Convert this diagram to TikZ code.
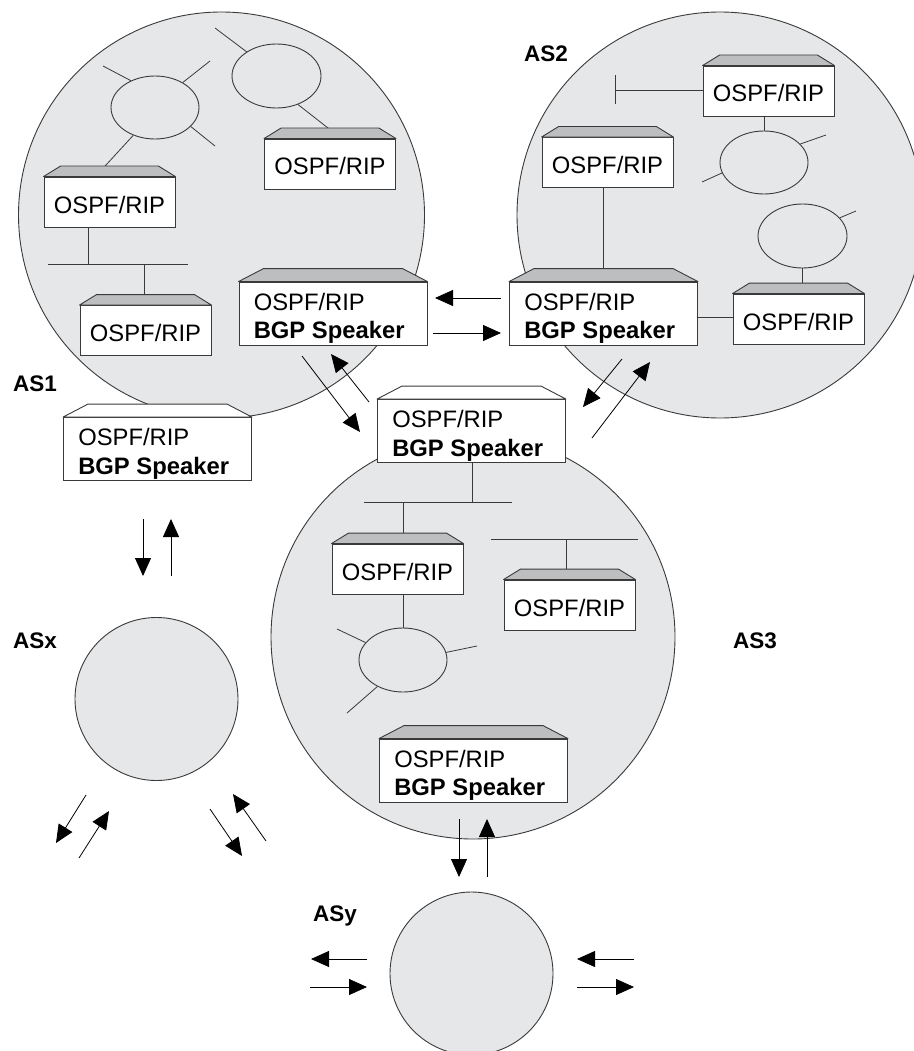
\documentclass[tikz,border=0pt]{standalone}
\usepackage{fontspec}
\setmainfont{Liberation Sans}
\usetikzlibrary{shapes.geometric,arrows.meta,calc}
\pgfdeclarelayer{bg}\pgfdeclarelayer{mid}
\pgfsetlayers{bg,mid,main}
\definecolor{asfill}{HTML}{E6E7E8}
\definecolor{capfill}{HTML}{BCBEC0}
\definecolor{edge}{HTML}{3A3A3A}
\newcommand\rtfont{\fontsize{23.8}{28}\selectfont}
\newcommand\aslfont{\fontsize{22.5}{26}\selectfont\bfseries}
\newcommand\capon[4]{%
  \filldraw[draw=edge, fill=#4, line width=0.9pt, line join=round]
    (#1.north west) -- ++(#2,-#3) -- ($(#1.north east)+(-#2,-#3)$) -- (#1.north east) -- cycle;}
\tikzset{
  asc/.style={circle, draw=edge, fill=asfill, line width=0.9pt, inner sep=0pt},
  lan/.style={ellipse, draw=edge, line width=0.9pt, inner sep=0pt, minimum width=88pt, minimum height=63pt},
  wire/.style={draw=edge, line width=0.8pt},
  rbody/.style={rectangle, draw=edge, fill=white, line width=0.9pt, inner sep=0pt},
  srouter/.style={rbody, minimum width=131pt, minimum height=50pt, text height=22pt, text depth=0pt, font=\rtfont},
  brouter/.style={rbody, minimum width=188pt, minimum height=63pt},
  rtxt/.style={anchor=base west, inner sep=0pt, font=\rtfont},
  aslabel/.style={anchor=base west, inner sep=0pt, font=\aslfont},
  flow/.style={draw=black, line width=0.8pt, -{Triangle[length=18pt,width=16pt]}},
}
\begin{document}
\begin{tikzpicture}[x=1pt,y=-1pt]
\useasboundingbox (0,0) rectangle (913,1051);
% ---------- autonomous systems ----------
\begin{pgfonlayer}{bg}
\node[asc, minimum size=406pt] (AS1) at (221.5,215) {};
\node[asc, minimum size=406pt] (AS2) at (720,215) {};
\node[asc, minimum size=404pt] (AS3) at (473,637) {};
\node[asc, minimum size=163pt] (ASX) at (156.5,699) {};
\node[asc, minimum size=163pt] (ASY) at (471.5,973.5) {};
\end{pgfonlayer}
% ---------- labels ----------
\node[aslabel] (l1) at (13,391) {AS1};
\node[aslabel] (l2) at (524,62) {AS2};
\node[aslabel] (l3) at (733,648) {AS3};
\node[aslabel] (lx) at (13,648) {ASx};
\node[aslabel] (ly) at (313,921) {ASy};
% ---------- LAN ellipses ----------
\node[lan] (e1) at (155,107.5) {};
\node[lan, minimum width=89pt, minimum height=64pt] (e2) at (276.5,76) {};
\node[lan] (e3) at (764,162.5) {};
\node[lan, minimum width=89pt, minimum height=64pt] (e4) at (802.5,236) {};
\node[lan, minimum height=64pt] (e5) at (403,660) {};
% ---------- small routers ----------
\node[srouter] (A) at (330,164) {OSPF/RIP};
\node[srouter] (B) at (109.5,202) {OSPF/RIP};
\node[srouter] (C) at (145.5,330.5) {OSPF/RIP};
\node[srouter] (E) at (768.5,91) {OSPF/RIP};
\node[srouter] (F) at (607.5,162.5) {OSPF/RIP};
\node[srouter] (H) at (798.5,319) {OSPF/RIP};
\node[srouter] (M) at (397.5,569) {OSPF/RIP};
\node[srouter] (N) at (569.5,605) {OSPF/RIP};
\foreach \r in {A,B,C,E,F,H,M,N} {\capon{\r}{17}{10.5}{capfill}}
% ---------- BGP speakers ----------
\node[brouter] (D) at (333,313.5) {};
\node[brouter] (G) at (603.5,313.5) {};
\node[brouter] (J) at (471.5,431) {};
\node[brouter] (K) at (157.5,449) {};
\node[brouter] (L) at (473.5,770.5) {};
\foreach \r in {D,G,L} {\capon{\r}{25}{13}{capfill}}
\foreach \r in {J,K} {\capon{\r}{25}{13}{white}}
\foreach \r in {D,G,J,K,L} {
  \node[rtxt] (\r1) at ($(\r.north west)+(15,28.5)$) {OSPF/RIP};
  \node[rtxt] (\r2) at ($(\r.north west)+(15,57)$) {\textbf{BGP Speaker}};
}
% ---------- LAN wiring ----------
\begin{pgfonlayer}{mid}
% AS1
\coordinate (e1a) at (103,66);
\coordinate (e1b) at (210,61);
\coordinate (e1c) at (215,146);
\coordinate (bB) at (95,177);
\draw[wire] (e1.132) -- (e1a);
\draw[wire] (e1.42) -- (e1b);
\draw[wire] (e1.332) -- (e1c);
\draw[wire] (e1.232) -- (bB);
\coordinate (e2a) at (215,28);
\coordinate (bA) at (342,139);
\draw[wire] (e2.141) -- (e2a);
\draw[wire] (e2.307) -- (bA);
\coordinate (bus1w) at (48,264);
\coordinate (bus1e) at (188,264);
\coordinate (j1) at (88,264);
\coordinate (j2) at (144,264);
\draw[wire] (bus1w) -- (bus1e);
\draw[wire] (B.south -| j1) -- (j1);
\draw[wire] (j2) -- (j2 |- C.north);
% AS2
\coordinate (tE) at (615,90);
\coordinate (tE1) at (615,75);
\coordinate (tE2) at (615,104);
\draw[wire] (E.west |- tE) -- (tE);
\draw[wire] (tE1) -- (tE2);
\draw[wire] (E.south -| e3.north) -- (e3.north);
\coordinate (e3a) at (826,135);
\coordinate (e3b) at (702,182);
\draw[wire] (e3.27) -- (e3a);
\draw[wire] (e3.194) -- (e3b);
\draw[wire] (F.south -| 603,0) -- (G.north -| 603,0);
\coordinate (e4a) at (856,211);
\draw[wire] (e4.26) -- (e4a);
\draw[wire] (e4.south) -- (e4.south |- H.north);
\coordinate (gh) at (716,317);
\draw[wire] (G.east |- gh) -- (H.west |- gh);
% AS3
\coordinate (bus2w) at (364,502);
\coordinate (bus2e) at (512,502);
\coordinate (j3) at (472,502);
\coordinate (j4) at (403,502);
\draw[wire] (bus2w) -- (bus2e);
\draw[wire] (J.south -| j3) -- (j3);
\draw[wire] (j4) -- (j4 |- M.north);
\draw[wire] (M.south -| e5.north) -- (e5.north);
\coordinate (e5a) at (337,629);
\coordinate (e5b) at (477,646);
\coordinate (e5c) at (347,713);
\draw[wire] (e5.155) -- (e5a);
\draw[wire] (e5.10) -- (e5b);
\draw[wire] (e5.226) -- (e5c);
\coordinate (bus3w) at (491,539);
\coordinate (bus3e) at (638,539);
\coordinate (j5) at (566,539);
\draw[wire] (bus3w) -- (bus3e);
\draw[wire] (j5) -- (j5 |- N.north);
\end{pgfonlayer}
% ---------- BGP exchanges ----------
\coordinate (a1s) at (501,298); \coordinate (a1t) at (435,298);
\coordinate (a2s) at (433,333); \coordinate (a2t) at (501,333);
\coordinate (a3s) at (302,356); \coordinate (a3t) at (360,432);
\coordinate (a4s) at (369,402); \coordinate (a4t) at (331,354);
\coordinate (a5s) at (622,359); \coordinate (a5t) at (583,407);
\coordinate (a6s) at (592,438); \coordinate (a6t) at (650,362);
\coordinate (a7s) at (143,519); \coordinate (a7t) at (143,576);
\coordinate (a8s) at (171,576); \coordinate (a8t) at (171,519);
\coordinate (a9s) at (86,795);  \coordinate (a9t) at (56,843);
\coordinate (a10s) at (79,858); \coordinate (a10t) at (109,811);
\coordinate (a11s) at (210,809); \coordinate (a11t) at (242,856);
\coordinate (a12s) at (266,841); \coordinate (a12t) at (233,794);
\coordinate (a13s) at (459,819); \coordinate (a13t) at (459,877);
\coordinate (a14s) at (487,877); \coordinate (a14t) at (487,819);
\coordinate (a15s) at (367,959); \coordinate (a15t) at (311,959);
\coordinate (a16s) at (310,987); \coordinate (a16t) at (367,987);
\coordinate (a17s) at (634,959); \coordinate (a17t) at (577,959);
\coordinate (a18s) at (577,987); \coordinate (a18t) at (634,987);
\foreach \i in {1,...,18} {\draw[flow] (a\i s) -- (a\i t);}
\end{tikzpicture}
\end{document}
